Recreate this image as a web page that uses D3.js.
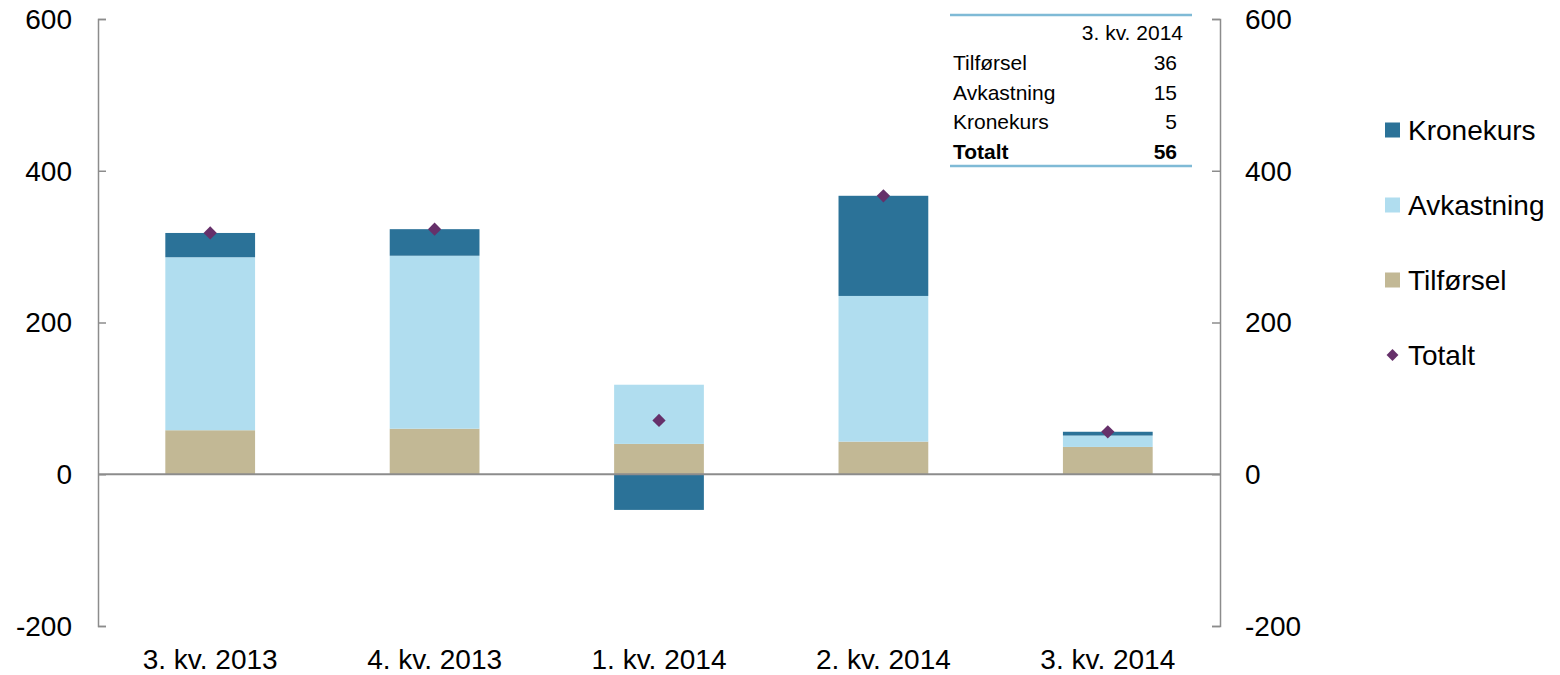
<!DOCTYPE html>
<html>
<head>
<meta charset="utf-8">
<script src="https://cdn.jsdelivr.net/npm/d3@7"></script>
<style>
    body { margin: 0; background: #fff; }
    svg text { font-family: "Liberation Sans", Arial, sans-serif; fill: #000; }
</style>
</head>
<body>
<div id="chart"></div>
<script>
const categories = ["3. kv. 2013", "4. kv. 2013", "1. kv. 2014", "2. kv. 2014", "3. kv. 2014"];
const tilforsel = [58, 60, 40, 43, 36];
const avkastning = [228, 228, 78, 192, 15];
const kronekurs = [32, 35, -47, 132, 5];
const totalt = [318, 323, 71, 367, 56];
const yTicks = [-200, 0, 200, 400, 600];

const tableHeader = "3. kv. 2014";
const tableRows = [["Tilførsel", "36"], ["Avkastning", "15"], ["Kronekurs", "5"], ["Totalt", "56"]];

const seriesNames = ["Tilførsel", "Avkastning", "Kronekurs"];
const colors = { "Tilførsel": "#c2b895", "Avkastning": "#b0ddef", "Kronekurs": "#2b7298", "Totalt": "#66306a" };

const W = 1560, H = 675;
const plotLeft = 98, plotRight = 1220, plotTop = 19, plotBottom = 626;

const svg = d3.select("#chart")
    .append("svg")
    .attr("width", W)
    .attr("height", H);

const x = d3.scaleBand()
    .domain(categories)
    .range([plotLeft, plotRight])
    .padding(0);

const y = d3.scaleLinear()
    .domain([-200, 600])
    .range([plotBottom, plotTop]);

const barW = x.bandwidth() * 0.4;

// stacked rows, positive values stack upwards, negative below zero
const rows = categories.map((c, i) => ({
    cat: c, "Tilførsel": tilforsel[i], "Avkastning": avkastning[i], "Kronekurs": kronekurs[i]
}));
const stacked = d3.stack()
    .keys(seriesNames)
    .offset(d3.stackOffsetDiverging)(rows);

svg.append("g")
    .selectAll("g")
    .data(stacked)
    .join("g")
    .attr("fill", d => colors[d.key])
    .selectAll("rect")
    .data(d => d)
    .join("rect")
    .attr("x", d => x(d.data.cat) + (x.bandwidth() - barW) / 2)
    .attr("width", barW)
    .attr("y", d => y(d[1]))
    .attr("height", d => y(d[0]) - y(d[1]));

// zero line
svg.append("line")
    .attr("x1", plotLeft).attr("x2", plotRight)
    .attr("y1", y(0)).attr("y2", y(0))
    .attr("stroke", "#8c8c8c")
    .attr("stroke-width", 2);

// left axis, ticks inward
const yLeft = svg.append("g")
    .attr("transform", `translate(${plotLeft},0)`)
    .call(d3.axisRight(y).tickValues(yTicks).tickSize(8).tickSizeOuter(8).tickFormat(""));
yLeft.selectAll("line, path").attr("stroke", "#8c8c8c").attr("stroke-width", 1.5);

svg.append("g")
    .selectAll("text")
    .data(yTicks)
    .join("text")
    .attr("x", 72)
    .attr("y", d => y(d))
    .attr("dy", "0.35em")
    .attr("text-anchor", "end")
    .attr("font-size", "28px")
    .text(d => d);

// right axis, ticks inward
const yRight = svg.append("g")
    .attr("transform", `translate(${plotRight},0)`)
    .call(d3.axisLeft(y).tickValues(yTicks).tickSize(8).tickSizeOuter(8).tickFormat(""));
yRight.selectAll("line, path").attr("stroke", "#8c8c8c").attr("stroke-width", 1.5);

svg.append("g")
    .selectAll("text")
    .data(yTicks)
    .join("text")
    .attr("x", 1245)
    .attr("y", d => y(d))
    .attr("dy", "0.35em")
    .attr("text-anchor", "start")
    .attr("font-size", "28px")
    .text(d => d);

// category labels
svg.append("g")
    .selectAll("text")
    .data(categories)
    .join("text")
    .attr("x", d => x(d) + x.bandwidth() / 2)
    .attr("y", 669)
    .attr("text-anchor", "middle")
    .attr("font-size", "28px")
    .text(d => d);

// totals
svg.append("g")
    .selectAll("path")
    .data(totalt)
    .join("path")
    .attr("d", d3.symbol(d3.symbolDiamond2, 112))
    .attr("transform", (d, i) => `translate(${x(categories[i]) + x.bandwidth() / 2},${y(d)})`)
    .attr("fill", colors["Totalt"]);

// small table in the corner
const tbl = svg.append("g");
tbl.append("line")
    .attr("x1", 950).attr("x2", 1192).attr("y1", 15).attr("y2", 15)
    .attr("stroke", "#7fbad6").attr("stroke-width", 2.5);
tbl.append("text")
    .attr("x", 1183).attr("y", 40)
    .attr("text-anchor", "end")
    .attr("font-size", "21px")
    .text(tableHeader);
tableRows.forEach((r, i) => {
    const bold = i === tableRows.length - 1;
    tbl.append("text")
        .attr("x", 953).attr("y", 70 + i * 29.7)
        .attr("font-size", "21px")
        .attr("font-weight", bold ? "bold" : "normal")
        .text(r[0]);
    tbl.append("text")
        .attr("x", 1177).attr("y", 70 + i * 29.7)
        .attr("text-anchor", "end")
        .attr("font-size", "21px")
        .attr("font-weight", bold ? "bold" : "normal")
        .text(r[1]);
});
tbl.append("line")
    .attr("x1", 950).attr("x2", 1192).attr("y1", 166).attr("y2", 166)
    .attr("stroke", "#7fbad6").attr("stroke-width", 2.5);

// legend
const legendItems = ["Kronekurs", "Avkastning", "Tilførsel", "Totalt"];
const legend = svg.append("g")
    .selectAll("g")
    .data(legendItems)
    .join("g")
    .attr("transform", (d, i) => `translate(1385,${130 + i * 75})`);

legend.filter(d => d !== "Totalt")
    .append("rect")
    .attr("x", 0).attr("y", -7.5)
    .attr("width", 15).attr("height", 15)
    .attr("fill", d => colors[d]);

legend.filter(d => d === "Totalt")
    .append("path")
    .attr("d", d3.symbol(d3.symbolDiamond2, 90))
    .attr("transform", "translate(7.5,0)")
    .attr("fill", colors["Totalt"]);

legend.append("text")
    .attr("x", 23)
    .attr("y", 0)
    .attr("dy", "0.35em")
    .attr("font-size", "28px")
    .text(d => d);
</script>
</body>
</html>
